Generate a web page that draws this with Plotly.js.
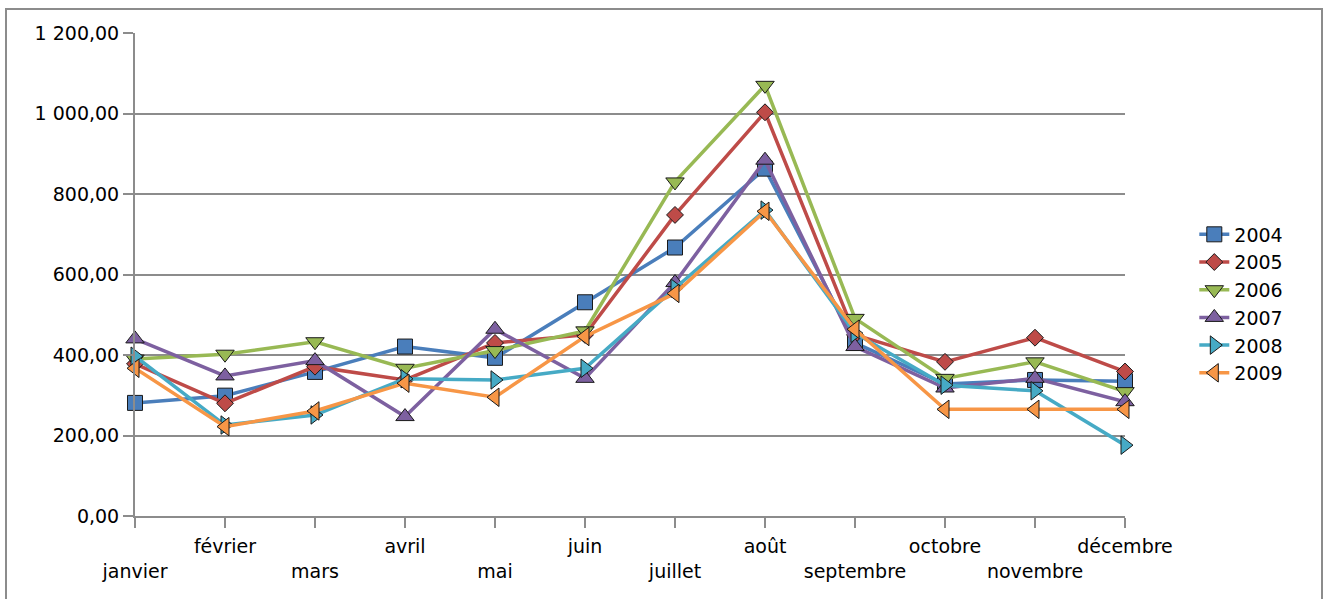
<!DOCTYPE html>
<html>
<head>
<meta charset="utf-8">
<script src="https://cdn.plot.ly/plotly-3.0.1.min.js"></script>
<style>html,body{margin:0;padding:0;background:#fff;}#chart{width:1323px;height:599px;}</style>
</head>
<body>
<div id="chart"></div>
<script>
const months = ["janvier","février","mars","avril","mai","juin","juillet","août","septembre","octobre","novembre","décembre"];
const yTickVals = [0,200,400,600,800,1000,1200];
const yTickText = ["0,00","200,00","400,00","600,00","800,00","1 000,00","1 200,00"];
const years = ["2004","2005","2006","2007","2008","2009"];
const v2004 = [281, 299, 358, 421, 393, 531, 667, 863, 430, 328, 338, 335];
const v2005 = [378, 280, 371, 338, 430, 450, 748, 1003, 450, 383, 443, 359];
const v2006 = [390, 402, 433, 367, 411, 460, 830, 1070, 491, 342, 383, 309];
const v2007 = [440, 348, 386, 247, 464, 342, 580, 884, 421, 318, 342, 284];
const v2008 = [397, 226, 251, 341, 338, 367, 566, 760, 454, 325, 311, 176];
const v2009 = [367, 222, 261, 330, 295, 446, 553, 757, 464, 265, 265, 265];

const series = [v2004, v2005, v2006, v2007, v2008, v2009];
const colors = ["#4a7ebb","#be4b48","#98b954","#7d60a0","#46aac5","#f79646"];
const symbols = ["square","diamond","triangle-down","triangle-up","triangle-right","triangle-left"];
const sizes = [15, 13, 16, 16, 16, 16];

const xIdx = months.map((m,i)=>i);
const xTickText = months.map((m,i)=> i % 2 === 0 ? "\u00a0<br>" + m : m);

const traces = series.map((vals,k)=>({
  type: "scatter",
  mode: "lines+markers",
  name: years[k],
  x: xIdx,
  y: vals,
  cliponaxis: false,
  line: {color: colors[k], width: 3.5},
  marker: {symbol: symbols[k], size: sizes[k], color: colors[k], line: {color: "#1a1a1a", width: 1}}
}));

const font = {family: "DejaVu Sans, sans-serif", size: 19, color: "#000"};

const layout = {
  width: 1323, height: 599,
  margin: {l: 135, r: 198, t: 33, b: 83},
  paper_bgcolor: "#fff", plot_bgcolor: "#fff",
  font: font,
  showlegend: true,
  legend: {x: 1.07, y: 0.439, xanchor: "left", yanchor: "middle", font: font,
           tracegroupgap: 0, itemwidth: 30, bgcolor: "rgba(0,0,0,0)"},
  xaxis: {
    range: [0, 11], tickmode: "array", tickvals: xIdx, ticktext: xTickText, tickangle: 0,
    showgrid: false, zeroline: false, showline: true, linecolor: "#8c8c8c", linewidth: 2,
    ticks: "outside", ticklen: 10, tickwidth: 2, tickcolor: "#8c8c8c",
    ticklabelstandoff: 2,
    tickfont: font, fixedrange: true
  },
  yaxis: {
    range: [0, 1200], tickmode: "array", tickvals: yTickVals, ticktext: yTickText,
    showgrid: true, gridcolor: "#8c8c8c", gridwidth: 2, zeroline: false,
    showline: true, linecolor: "#8c8c8c", linewidth: 2,
    ticks: "outside", ticklen: 10, tickwidth: 2, tickcolor: "#8c8c8c",
    tickfont: font, fixedrange: true
  },
  shapes: [{type: "rect", xref: "paper", yref: "paper",
            x0: (6-135)/990, x1: (1322-135)/990, y0: -0.3, y1: (516-9)/483,
            line: {color: "#8c8c8c", width: 2}, layer: "below"}]
};

Plotly.newPlot("chart", traces, layout, {staticPlot: true, displayModeBar: false});
</script>
</body>
</html>
